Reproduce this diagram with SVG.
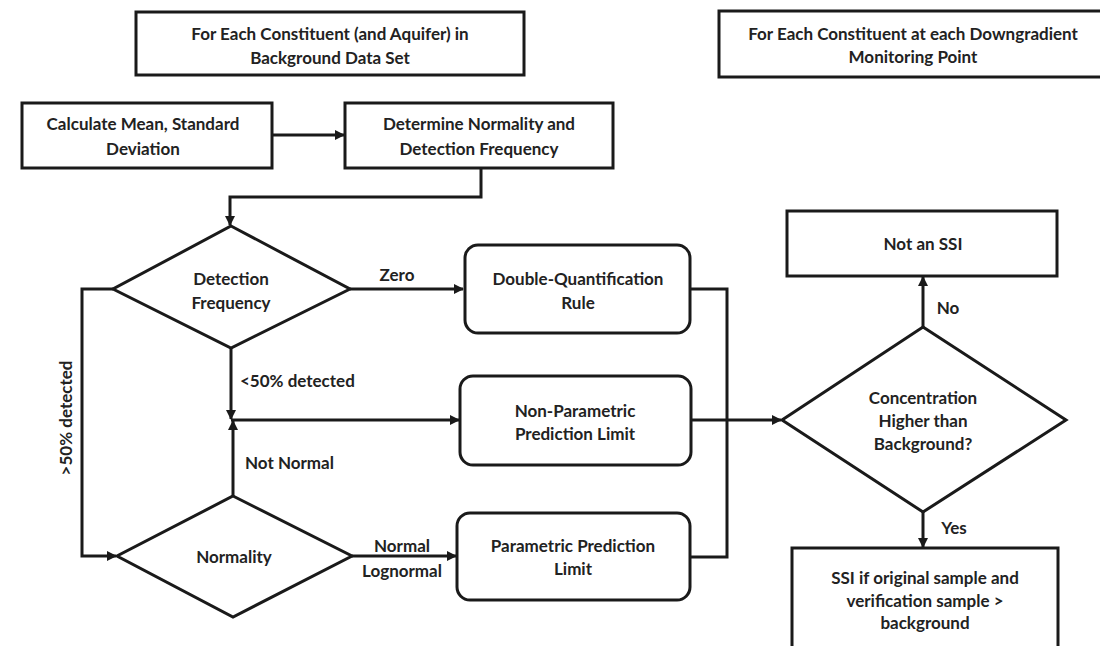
<svg xmlns="http://www.w3.org/2000/svg" width="1100" height="646" viewBox="0 0 1100 646">
<style>
.box{fill:#fff;stroke:#1a1a1a;stroke-width:3}
.ln{fill:none;stroke:#1a1a1a;stroke-width:3}
text{font-family:Lato,"Open Sans","Liberation Sans",sans-serif;font-weight:bold;font-size:17px;fill:#222;text-anchor:middle;dominant-baseline:central}
.lbl{text-anchor:start}
</style>
<defs>
<marker id="ah" markerWidth="10" markerHeight="10" refX="9" refY="5" orient="auto" markerUnits="userSpaceOnUse">
<path d="M0,0 L10,5 L0,10 z" fill="#1a1a1a"/>
</marker>
</defs>
<rect width="1100" height="646" fill="#fff"/>
<g id="connectors">
<line class="ln" x1="273" y1="135" x2="344" y2="135" marker-end="url(#ah)"/>
<polyline class="ln" points="481,168 481,197 230,197 230,225" marker-end="url(#ah)"/>
<line class="ln" x1="350" y1="289" x2="463" y2="289" marker-end="url(#ah)"/>
<polyline class="ln" points="113,289 82,289 82,556 116,556" marker-end="url(#ah)"/>
<line class="ln" x1="231" y1="348" x2="231" y2="419" marker-end="url(#ah)"/>
<line class="ln" x1="233" y1="496" x2="233" y2="421" marker-end="url(#ah)"/>
<line class="ln" x1="231" y1="420" x2="459" y2="420" marker-end="url(#ah)"/>
<line class="ln" x1="352" y1="556" x2="456" y2="556" marker-end="url(#ah)"/>
<polyline class="ln" points="691,289 727,289 727,557 691,557"/>
<line class="ln" x1="691" y1="420" x2="781" y2="420" marker-end="url(#ah)"/>
<line class="ln" x1="923" y1="327" x2="923" y2="277" marker-end="url(#ah)"/>
<line class="ln" x1="923" y1="512" x2="923" y2="547" marker-end="url(#ah)"/>
<text x="397" y="274">Zero</text>
<text x="240" y="380" class="lbl">&lt;50% detected</text>
<text x="245" y="462" class="lbl">Not Normal</text>
<text transform="translate(65,418) rotate(-90)">&gt;50% detected</text>
<text x="402" y="545">Normal</text>
<text x="402" y="570">Lognormal</text>
<text x="948" y="307">No</text>
<text x="954" y="527">Yes</text>
</g>
<g id="bg-set">
<rect class="box" x="136" y="12" width="388" height="63"/>
<text x="330" y="33">For Each Constituent (and Aquifer) in</text>
<text x="330" y="57">Background Data Set</text>
</g>
<g id="downgradient">
<rect class="box" x="719" y="11" width="388" height="66"/>
<text x="913" y="33">For Each Constituent at each Downgradient</text>
<text x="913" y="56">Monitoring Point</text>
</g>
<g id="calc">
<rect class="box" x="22" y="103" width="250" height="65"/>
<text x="143" y="123">Calculate Mean, Standard</text>
<text x="143" y="148">Deviation</text>
</g>
<g id="determine">
<rect class="box" x="345" y="103" width="268" height="65"/>
<text x="479" y="123">Determine Normality and</text>
<text x="479" y="148">Detection Frequency</text>
</g>
<g id="detection">
<polygon class="box" points="231,226 350,289 231,348 113,289"/>
<text x="231" y="278">Detection</text>
<text x="231" y="302">Frequency</text>
</g>
<g id="normality">
<polygon class="box" points="233,496 352,556 233,617 117,556"/>
<text x="234" y="556">Normality</text>
</g>
<g id="dq">
<rect class="box" x="465" y="245" width="225" height="88" rx="13"/>
<text x="578" y="278">Double-Quantification</text>
<text x="578" y="302">Rule</text>
</g>
<g id="nonparam">
<rect class="box" x="460" y="376" width="231" height="89" rx="13"/>
<text x="575" y="410">Non-Parametric</text>
<text x="575" y="433">Prediction Limit</text>
</g>
<g id="param">
<rect class="box" x="457" y="513" width="233" height="87" rx="13"/>
<text x="573" y="545">Parametric Prediction</text>
<text x="573" y="568">Limit</text>
</g>
<g id="concentration">
<polygon class="box" points="923,327 1066,420 923,512 782,420"/>
<text x="923" y="397">Concentration</text>
<text x="923" y="420">Higher than</text>
<text x="923" y="443">Background?</text>
</g>
<g id="notssi">
<rect class="box" x="787" y="211" width="270" height="65"/>
<text x="923" y="243">Not an SSI</text>
</g>
<g id="ssi">
<rect class="box" x="792" y="548" width="266" height="110"/>
<text x="925" y="577">SSI if original sample and</text>
<text x="925" y="600">verification sample &gt;</text>
<text x="925" y="622">background</text>
</g>
</svg>
